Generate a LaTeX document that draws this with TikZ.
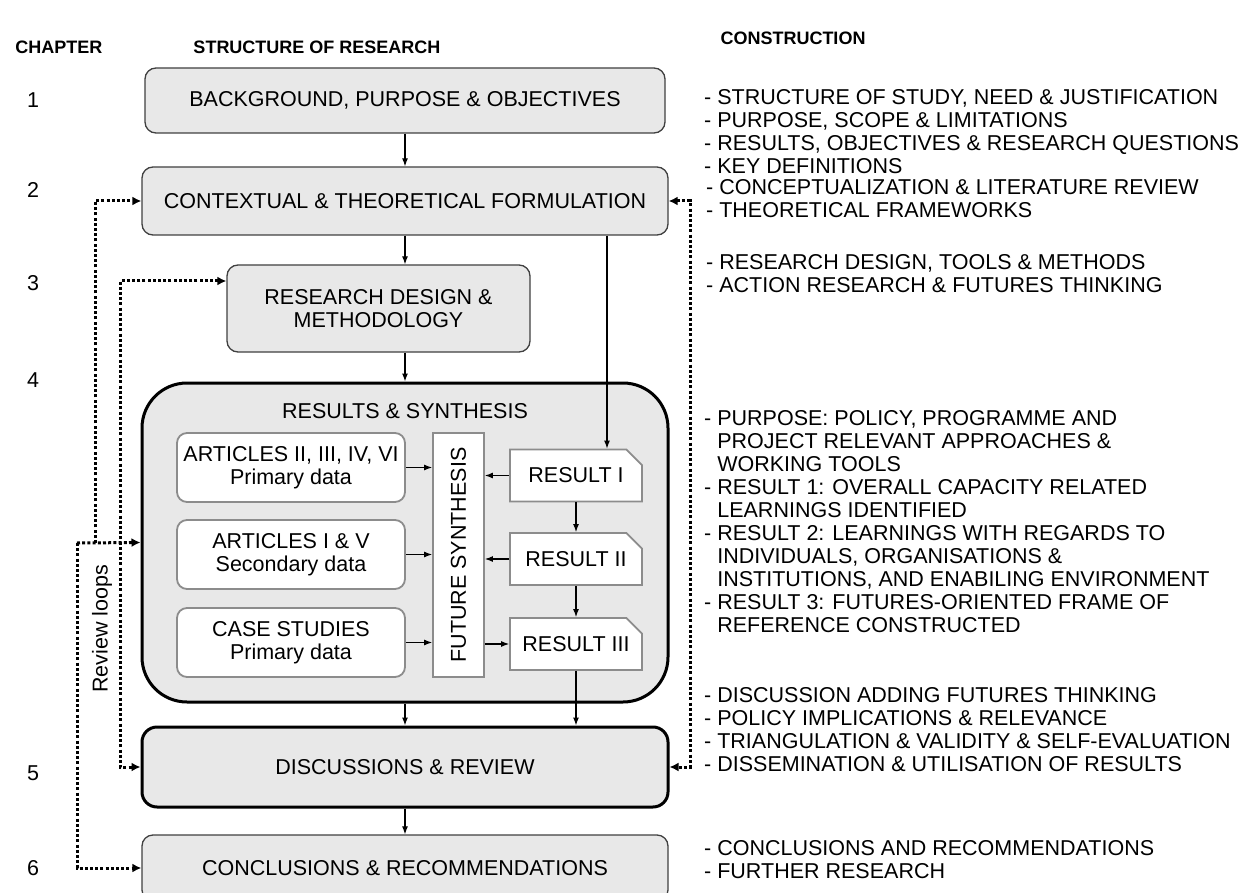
\documentclass[tikz,border=0pt]{standalone}
\usepackage{fontspec}
\setmainfont{Liberation Sans}
\usetikzlibrary{arrows.meta,shapes.misc}
\definecolor{boxfill}{RGB}{232,232,232}
\definecolor{boxline}{RGB}{64,64,64}
\definecolor{innerline}{RGB}{140,140,140}
\begin{document}
\begin{tikzpicture}[x=1pt,y=-1pt,
  every node/.style={font=\fontsize{21.5}{23}\selectfont, inner sep=0pt},
  mainbox/.style={draw=boxline, line width=1.3pt, fill=boxfill, rounded corners=11pt, align=center},
  heavybox/.style={draw=black, line width=3pt, fill=boxfill, align=center},
  whitebox/.style={draw=innerline, line width=1.8pt, fill=white, rounded corners=10pt, align=center},
  resultbox/.style={chamfered rectangle, chamfered rectangle corners=north east,
    chamfered rectangle sep=8pt, draw=innerline, line width=1.8pt, fill=white,
    minimum width=132pt, minimum height=52pt},
  flow/.style={draw=black, line width=1.2pt, -{Latex[length=8pt,width=6pt]}},
  loopline/.style={draw=black, line width=3pt, dash pattern=on 3pt off 2.2pt},
  loop/.style={loopline, -{Latex[length=9pt,width=9pt]}},
  loopboth/.style={loopline, {Latex[length=9pt,width=9pt]}-{Latex[length=9pt,width=9pt]}},
  head/.style={font=\fontsize{18}{20}\selectfont\bfseries},
  note/.style={anchor=north west, align=left},
  chapno/.style={anchor=center}
]
\useasboundingbox (0,0) rectangle (1258,893);

% column headings
\node[head] (hchap) at (59,47) {CHAPTER};
\node[head] (hstruct) at (317,47) {STRUCTURE OF RESEARCH};
\node[head] (hcons) at (793,38) {CONSTRUCTION};

% chapter numbers
\node[chapno] (c1) at (33,100) {1};
\node[chapno] (c2) at (33,190) {2};
\node[chapno] (c3) at (33,283) {3};
\node[chapno] (c4) at (33,380) {4};
\node[chapno] (c5) at (33,773) {5};
\node[chapno] (c6) at (33,868) {6};

% main chain of chapters
\node[mainbox, minimum width=520pt, minimum height=65pt] (b1) at (405,100.5) {BACKGROUND, PURPOSE \& OBJECTIVES};
\node[mainbox, minimum width=526pt, minimum height=68pt] (b2) at (405,201) {CONTEXTUAL \& THEORETICAL FORMULATION};
\node[mainbox, minimum width=303pt, minimum height=87pt] (b3) at (378.5,308.5) {RESEARCH DESIGN \&\\METHODOLOGY};

% results & synthesis container
\node[heavybox, rounded corners=45pt, minimum width=526pt, minimum height=319pt] (res) at (405,542.5) {};
\node (restitle) at (405,411) {RESULTS \& SYNTHESIS};

\node[whitebox, minimum width=228pt, minimum height=69pt] (a1) at (291,467.5) {ARTICLES II, III, IV, VI\\Primary data};
\node[whitebox, minimum width=228pt, minimum height=69pt] (a2) at (291,554.5) {ARTICLES I \& V\\Secondary data};
\node[whitebox, minimum width=228pt, minimum height=69pt] (a3) at (291,642.5) {CASE STUDIES\\Primary data};

\node[chamfered rectangle, chamfered rectangle corners=north west, chamfered rectangle sep=8pt,
  draw=innerline, line width=1.8pt, fill=white, minimum width=51pt, minimum height=244pt] (fs) at (458.5,555) {};
\node[rotate=90] (fstext) at (fs.center) {FUTURE SYNTHESIS};

\node[resultbox] (r1) at (576,475.5) {RESULT I};
\node[resultbox] (r2) at (576,559) {RESULT II};
\node[resultbox] (r3) at (576,644) {RESULT III};

\node[heavybox, rounded corners=15pt, minimum width=526pt, minimum height=80pt] (d) at (405,767) {DISCUSSIONS \& REVIEW};
\node[mainbox, minimum width=526pt, minimum height=66pt] (cr) at (405,868) {CONCLUSIONS \& RECOMMENDATIONS};

% solid flow arrows
\coordinate (xr) at (607,0);
\draw[flow] (b1.south) -- (b2.north);
\draw[flow] (b2.south) -- (b2.south |- b3.north);
\draw[flow] (b2.south -| xr) -- (r1.north -| xr);
\draw[flow] (b2.south |- b3.south) -- (res.north);
\draw[flow] (a1.east) -- (a1.east -| fs.west);
\draw[flow] (a2.east) -- (a2.east -| fs.west);
\draw[flow] (a3.east) -- (a3.east -| fs.west);
\draw[flow] (r1.west) -- (r1.west -| fs.east);
\draw[flow] (r2.west) -- (r2.west -| fs.east);
\draw[flow] (r3.west -| fs.east) -- (r3.west);
\draw[flow] (r1.south) -- (r2.north);
\draw[flow] (r2.south) -- (r3.north);
\draw[flow] (r3.south) -- (r3.south |- d.north);
\draw[flow] (res.south) -- (d.north);
\draw[flow] (d.south) -- (cr.north);

% review loops
\coordinate (j1) at (95,543);
\coordinate (j0) at (77,543);
\coordinate (l2) at (120,281);
\coordinate (rr) at (690,0);
\draw[loop] (j1) |- (b2.west);
\draw[loop] (j0) -- (res.west);
\draw[loop] (j0) |- (cr.west);
\draw[loopboth] (b3.west |- l2) -- (l2) |- (d.west);
\draw[loopboth] (b2.east) -- (b2.east -| rr) |- (d.east);
\node[rotate=90] (rl) at (102,629) {Review loops};

% construction notes
\node[note] (n1) at (704,89) {- STRUCTURE OF STUDY, NEED \& JUSTIFICATION\\
- PURPOSE, SCOPE \& LIMITATIONS\\
- RESULTS, OBJECTIVES \& RESEARCH QUESTIONS\\
- KEY DEFINITIONS};
\node[note] (n2) at (706,179) {- CONCEPTUALIZATION \& LITERATURE REVIEW\\
- THEORETICAL FRAMEWORKS};
\node[note] (n3) at (706,254) {- RESEARCH DESIGN, TOOLS \& METHODS\\
- ACTION RESEARCH \& FUTURES THINKING};
\node[note] (n4) at (704,410) {- PURPOSE: POLICY, PROGRAMME AND\\
\phantom{- }PROJECT RELEVANT APPROACHES \&\\
\phantom{- }WORKING TOOLS\\
- RESULT 1: OVERALL CAPACITY RELATED\\
\phantom{- }LEARNINGS IDENTIFIED\\
- RESULT 2: LEARNINGS WITH REGARDS TO\\
\phantom{- }INDIVIDUALS, ORGANISATIONS \&\\
\phantom{- }INSTITUTIONS, AND ENABILING ENVIRONMENT\\
- RESULT 3: FUTURES-ORIENTED FRAME OF\\
\phantom{- }REFERENCE CONSTRUCTED};
\node[note] (n5) at (704,687) {- DISCUSSION ADDING FUTURES THINKING\\
- POLICY IMPLICATIONS \& RELEVANCE\\
- TRIANGULATION \& VALIDITY \& SELF-EVALUATION\\
- DISSEMINATION \& UTILISATION OF RESULTS};
\node[note] (n6) at (704,840) {- CONCLUSIONS AND RECOMMENDATIONS\\
- FURTHER RESEARCH};
\end{tikzpicture}
\end{document}
